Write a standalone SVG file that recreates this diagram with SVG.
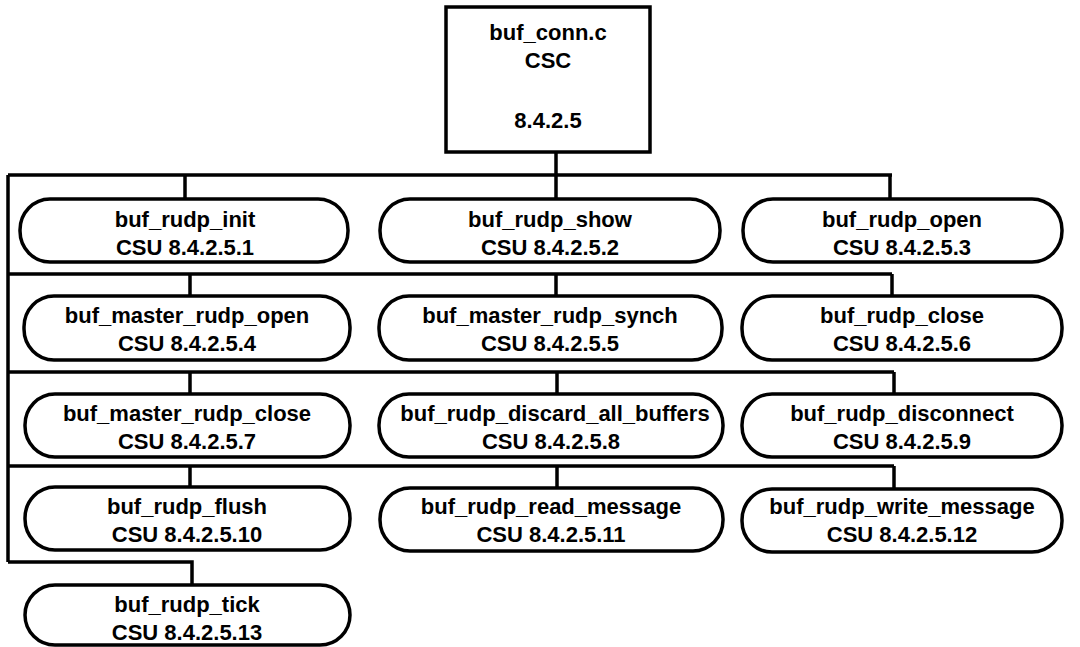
<svg xmlns="http://www.w3.org/2000/svg" width="1080" height="647" viewBox="0 0 1080 647">
<style>
.n{fill:#fff;stroke:#000;stroke-width:3.5}
.c{fill:none;stroke:#000;stroke-width:3.5;stroke-linejoin:miter}
text{font-family:"Liberation Sans",Arial,sans-serif;font-weight:bold;font-size:22px;text-anchor:middle;fill:#000}
</style>
<rect width="1080" height="647" fill="#fff"/>
<g id="connectors">
<path class="c" d="M556 152V175M8 175H892M8 175V562M185 175V199M556 175V199M890 175V199"/>
<path class="c" d="M8 274H892M190 274V296M556 274V296M892 274V296"/>
<path class="c" d="M8 372H894M190 372V394M557 372V394M894 372V394"/>
<path class="c" d="M8 466H894M190 466V487M557 466V487M894 466V488"/>
<path class="c" d="M8 562H192V585"/>
</g>
<g id="root"><rect class="n" x="446" y="7" width="204" height="145"/><text x="548" y="40">buf_conn.c</text><text x="548" y="68">CSC</text><text x="548" y="128">8.4.2.5</text></g>
<g id="n1"><rect class="n" x="20" y="199" width="328" height="63" rx="30" ry="31"/><text x="185" y="227">buf_rudp_init</text><text x="185" y="255">CSU 8.4.2.5.1</text></g>
<g id="n2"><rect class="n" x="380" y="199" width="340" height="63" rx="30" ry="31"/><text x="550" y="227">buf_rudp_show</text><text x="550" y="255">CSU 8.4.2.5.2</text></g>
<g id="n3"><rect class="n" x="743" y="199" width="319" height="63" rx="30" ry="31"/><text x="902" y="227">buf_rudp_open</text><text x="902" y="255">CSU 8.4.2.5.3</text></g>
<g id="n4"><rect class="n" x="24" y="296" width="326" height="64" rx="30" ry="31"/><text x="187" y="323">buf_master_rudp_open</text><text x="187" y="351">CSU 8.4.2.5.4</text></g>
<g id="n5"><rect class="n" x="379" y="296" width="343" height="64" rx="30" ry="31"/><text x="550" y="323">buf_master_rudp_synch</text><text x="550" y="351">CSU 8.4.2.5.5</text></g>
<g id="n6"><rect class="n" x="742" y="296" width="320" height="64" rx="30" ry="31"/><text x="902" y="323">buf_rudp_close</text><text x="902" y="351">CSU 8.4.2.5.6</text></g>
<g id="n7"><rect class="n" x="25" y="394" width="325" height="63" rx="30" ry="31"/><text x="187" y="421">buf_master_rudp_close</text><text x="187" y="449">CSU 8.4.2.5.7</text></g>
<g id="n8"><rect class="n" x="379" y="394" width="344" height="63" rx="30" ry="31"/><text x="555" y="421">buf_rudp_discard_all_buffers</text><text x="551" y="449">CSU 8.4.2.5.8</text></g>
<g id="n9"><rect class="n" x="742" y="394" width="320" height="63" rx="30" ry="31"/><text x="902" y="421">buf_rudp_disconnect</text><text x="902" y="449">CSU 8.4.2.5.9</text></g>
<g id="n10"><rect class="n" x="25" y="487" width="325" height="63" rx="30" ry="31"/><text x="187" y="514">buf_rudp_flush</text><text x="187" y="542">CSU 8.4.2.5.10</text></g>
<g id="n11"><rect class="n" x="380" y="488" width="343" height="63" rx="30" ry="31"/><text x="551" y="514">buf_rudp_read_message</text><text x="551" y="542">CSU 8.4.2.5.11</text></g>
<g id="n12"><rect class="n" x="742" y="489" width="320" height="63" rx="30" ry="31"/><text x="902" y="514">buf_rudp_write_message</text><text x="902" y="542">CSU 8.4.2.5.12</text></g>
<g id="n13"><rect class="n" x="25" y="585" width="325" height="60" rx="30" ry="30"/><text x="187" y="612">buf_rudp_tick</text><text x="187" y="640">CSU 8.4.2.5.13</text></g>
</svg>
